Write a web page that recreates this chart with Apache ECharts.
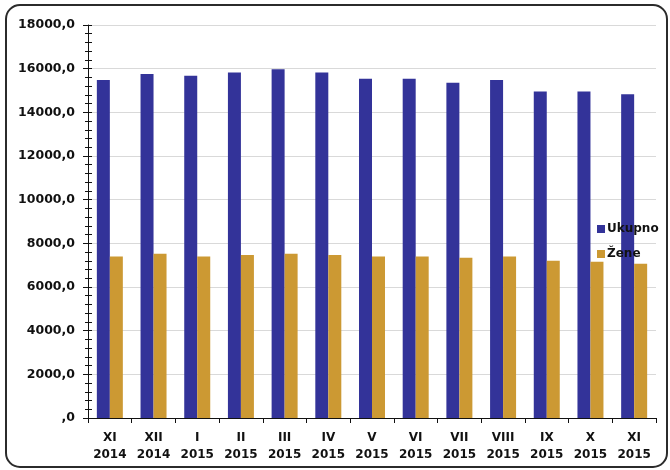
<!DOCTYPE html>
<html>
<head>
<meta charset="utf-8">
<script src="https://cdn.jsdelivr.net/npm/echarts@6/dist/echarts.min.js"></script>
<style>html,body{margin:0;padding:0;background:#fff}#c{width:670px;height:470px}</style>
</head>
<body>
<div id="c"></div>
<script>
const categories = ['XI\n2014','XII\n2014','I\n2015','II\n2015','III\n2015','IV\n2015','V\n2015','VI\n2015','VII\n2015','VIII\n2015','IX\n2015','X\n2015','XI\n2015'];
const ukupno = [15480, 15760, 15680, 15820, 15970, 15820, 15540, 15540, 15360, 15480, 14950, 14950, 14830];
const zene = [7400, 7520, 7400, 7470, 7520, 7470, 7400, 7400, 7340, 7400, 7200, 7160, 7060];
const seriesNames = ['Ukupno', 'Žene'];

const font = 'DejaVu Sans';
const chart = echarts.init(document.getElementById('c'));
chart.setOption({
  backgroundColor: '#fff',
  animation: false,
  graphic: [{
    type: 'rect',
    shape: { x: 6, y: 5, width: 661, height: 462, r: 14 },
    style: { fill: 'none', stroke: '#2b2b2b', lineWidth: 2 },
    z: 100
  }],
  legend: {
    orient: 'vertical',
    left: 592,
    top: 218,
    itemWidth: 8,
    itemHeight: 8,
    itemGap: 13,
    icon: 'rect',
    textStyle: { fontFamily: font, fontWeight: 'bold', fontSize: 12, color: '#111', padding: [0, 0, 0, -3] },
    data: seriesNames
  },
  grid: { left: 88, right: 14, top: 25, bottom: 52, containLabel: false },
  xAxis: {
    type: 'category',
    data: categories,
    axisLine: { lineStyle: { color: '#111', width: 1 } },
    axisTick: { show: true, length: 5, interval: 0, lineStyle: { color: '#111' } },
    axisLabel: { interval: 0, margin: 11, fontFamily: font, fontWeight: 'bold', fontSize: 12, color: '#111', lineHeight: 17 }
  },
  yAxis: [{
    type: 'value',
    min: 0, max: 18000, interval: 2000,
    axisLine: { show: true, lineStyle: { color: '#111' } },
    axisTick: { show: true, length: 5, lineStyle: { color: '#111' } },
    minorTick: { show: true, splitNumber: 5, length: 3, lineStyle: { color: '#111' } },
    splitLine: { show: true, lineStyle: { color: '#d9d9d9', width: 1 } },
    axisLabel: {
      margin: 13, fontFamily: font, fontWeight: 'bold', fontSize: 12.5, color: '#111',
      formatter: v => v === 0 ? ',0' : v.toFixed(1).replace('.', ',')
    }
  }, {
    type: 'value',
    position: 'left',
    offset: 0,
    min: 0, max: 18000, interval: 2000,
    axisLine: { show: false },
    axisTick: { show: true, inside: true, length: 4, lineStyle: { color: '#111' } },
    minorTick: { show: true, splitNumber: 5, length: 4, lineStyle: { color: '#111' } },
    splitLine: { show: false },
    axisLabel: { show: false }
  }],
  series: [{
    name: seriesNames[0],
    type: 'bar',
    data: ukupno,
    barWidth: 13,
    barGap: '0%',
    itemStyle: { color: '#333399' }
  }, {
    name: seriesNames[1],
    type: 'bar',
    data: zene,
    barWidth: 13,
    barGap: '0%',
    itemStyle: { color: '#CC9933' }
  }]
});
</script>
</body>
</html>
